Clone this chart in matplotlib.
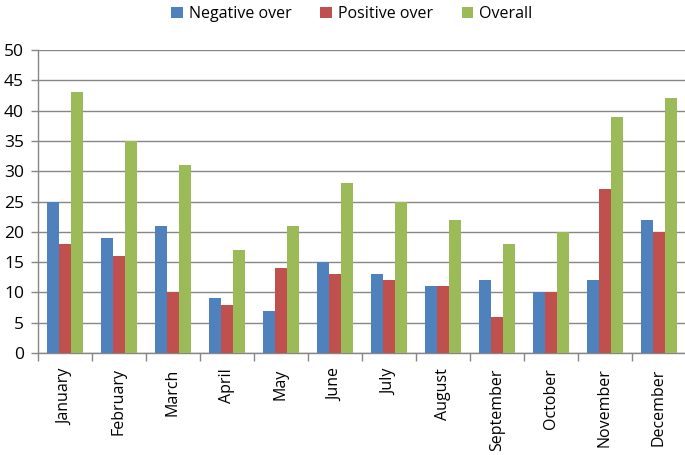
import matplotlib
matplotlib.use("Agg")
import matplotlib.pyplot as plt
import numpy as np

months = ["January", "February", "March", "April", "May", "June", "July",
          "August", "September", "October", "November", "December"]
negative_over = [25, 19, 21, 9, 7, 15, 13, 11, 12, 10, 12, 22]
positive_over = [18, 16, 10, 8, 14, 13, 12, 11, 6, 10, 27, 20]
overall = [43, 35, 31, 17, 21, 28, 25, 22, 18, 20, 39, 42]
series_names = ["Negative over", "Positive over", "Overall"]
colors = ["#4F81BD", "#C0504D", "#9BBB59"]

plt.rcParams['font.family'] = ['Open Sans', 'DejaVu Sans']

fig = plt.figure(figsize=(6.85, 4.55), dpi=100)
ax = fig.add_axes([38/685, 1-353/455, 648/685, 303/455])

x = np.arange(len(months))
w = 1/4.5
for i, (vals, name, c) in enumerate(zip([negative_over, positive_over, overall], series_names, colors)):
    ax.bar(x + (i-1)*w, vals, width=w, color=c, label=name, zorder=3)

ax.set_xlim(-0.5, len(months)-0.5)
ax.set_ylim(0, 50)
ax.set_yticks(range(0, 51, 5))
ax.tick_params(axis='y', labelsize=12.5, length=5, color='#868686', width=1, pad=5)
ax.set_xticks(x)
ax.set_xticklabels(months, rotation=90, fontsize=11.5)
ax.tick_params(axis='x', length=0, pad=11)
ax.set_xticks(np.arange(-0.5, len(months)), minor=True)
ax.tick_params(axis='x', which='minor', length=6, color='#868686', width=1)
ax.grid(axis='y', color='#868686', linewidth=1, zorder=0)
for s in ['top', 'right']:
    ax.spines[s].set_visible(False)
for s in ['left', 'bottom']:
    ax.spines[s].set_color('#868686')
    ax.spines[s].set_linewidth(1)

ax.legend(loc='upper center', bbox_to_anchor=(352/685, 1.005), bbox_transform=fig.transFigure,
          ncol=3, frameon=False, fontsize=11.5, handlelength=0.7, handleheight=0.7,
          handletextpad=0.4, columnspacing=1.8, borderaxespad=0.1)

fig.savefig("out.png", dpi=100)
